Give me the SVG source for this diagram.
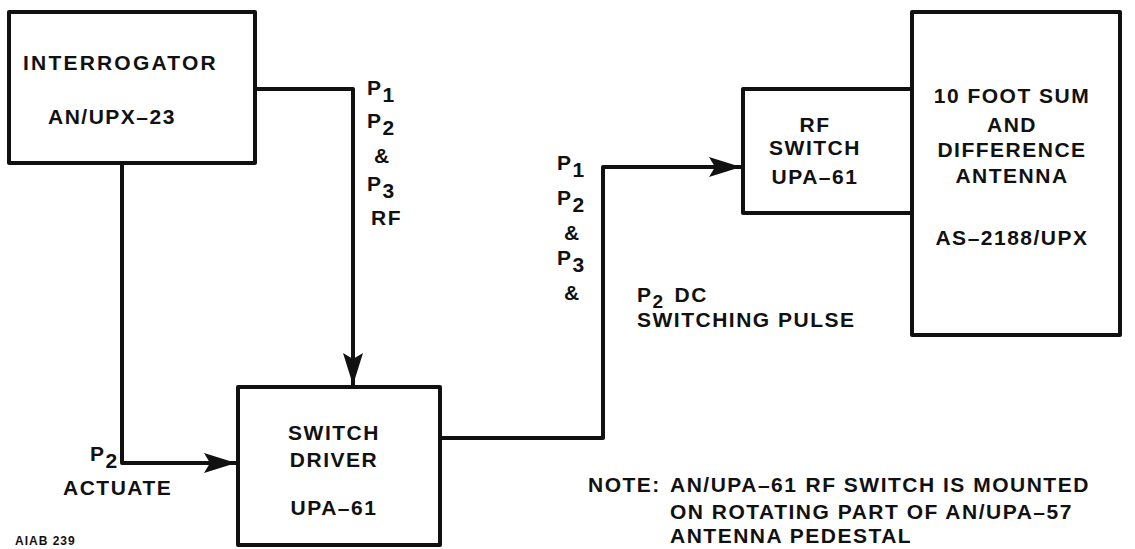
<svg xmlns="http://www.w3.org/2000/svg" width="1135" height="549" viewBox="0 0 1135 549">
<style>
.box{fill:none;stroke:#111;stroke-width:4;stroke-linejoin:round}
.wire{fill:none;stroke:#111;stroke-width:4;stroke-linejoin:round}
.t{font-family:"Liberation Sans",Arial,sans-serif;font-weight:bold;font-size:21px;letter-spacing:1.5px;fill:#111}
.c{text-anchor:middle}
.s{font-family:"Liberation Sans",Arial,sans-serif;font-weight:900;font-size:12px;letter-spacing:1px;fill:#111}
</style>
<defs>
<marker id="arr" markerUnits="userSpaceOnUse" markerWidth="34" markerHeight="22" refX="32" refY="10" orient="auto">
<path d="M0,0 L32,10 L0,20 L6,10 z" fill="#111"/>
</marker>
</defs>
<rect width="1135" height="549" fill="#fff"/>
<g id="connectors">
<path class="wire" d="M255,89 H353 V385" marker-end="url(#arr)"/>
<path class="wire" d="M122,163 V463 H236" marker-end="url(#arr)"/>
<path class="wire" d="M440,438 H603 V167 H741" marker-end="url(#arr)"/>
</g>
<g id="interrogator">
<rect class="box" x="9" y="12" width="246" height="151"/>
<text class="t" x="23" y="70" style="letter-spacing:2.2px">INTERROGATOR</text>
<text class="t" x="48" y="124">AN/UPX–23</text>
</g>
<g id="switch-driver">
<rect class="box" x="238" y="387" width="202" height="158"/>
<text class="t c" x="334" y="440">SWITCH</text>
<text class="t c" x="334" y="467">DRIVER</text>
<text class="t c" x="334" y="515">UPA–61</text>
</g>
<g id="rf-switch">
<rect class="box" x="743" y="89" width="169" height="124"/>
<text class="t c" x="815" y="132">RF</text>
<text class="t c" x="815" y="155">SWITCH</text>
<text class="t c" x="815" y="184">UPA–61</text>
</g>
<g id="antenna">
<rect class="box" x="912" y="12" width="208" height="323"/>
<text class="t c" x="1012" y="103">10 FOOT SUM</text>
<text class="t c" x="1012" y="132">AND</text>
<text class="t c" x="1012" y="157">DIFFERENCE</text>
<text class="t c" x="1012" y="183">ANTENNA</text>
<text class="t c" x="1012" y="245">AS–2188/UPX</text>
</g>
<g id="labels">
<text class="t" x="367" y="95">P<tspan dy="7">1</tspan></text>
<text class="t" x="367" y="128">P<tspan dy="7">2</tspan></text>
<text class="t" x="374" y="163">&amp;</text>
<text class="t" x="367" y="191">P<tspan dy="7">3</tspan></text>
<text class="t" x="371" y="225">RF</text>
<text class="t" x="557" y="170">P<tspan dy="7">1</tspan></text>
<text class="t" x="557" y="205">P<tspan dy="7">2</tspan></text>
<text class="t" x="564" y="240">&amp;</text>
<text class="t" x="557" y="265">P<tspan dy="7">3</tspan></text>
<text class="t" x="564" y="300">&amp;</text>
<text class="t" x="637" y="302">P<tspan dy="6" style="font-size:19px">2</tspan><tspan dy="-6" dx="10">DC</tspan></text>
<text class="t" x="637" y="327">SWITCHING PULSE</text>
<text class="t" x="90" y="461">P<tspan dy="7">2</tspan></text>
<text class="t" x="63" y="495">ACTUATE</text>
<text class="s" x="15" y="545">AIAB 239</text>
<text class="t" x="588" y="492">NOTE:</text>
<text class="t" x="670" y="492">AN/UPA–61<tspan dx="8">RF SWITCH IS MOUNTED</tspan></text>
<text class="t" x="670" y="519">ON ROTATING PART OF AN/UPA–57</text>
<text class="t" x="670" y="543">ANTENNA PEDESTAL</text>
</g>
</svg>
